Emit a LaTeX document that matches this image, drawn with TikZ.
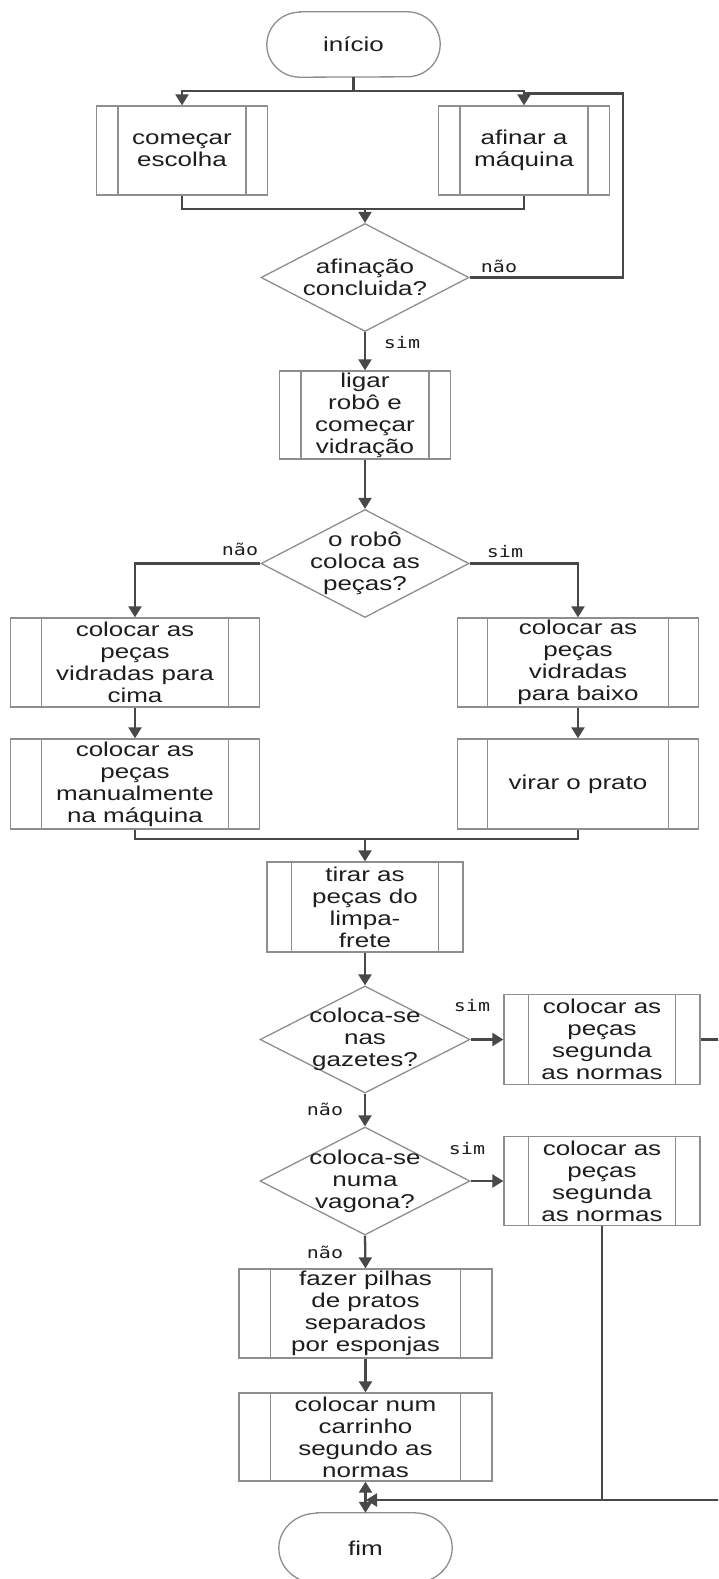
\documentclass[tikz,border=0pt]{standalone}
\usepackage{fontspec}
\setmainfont{Liberation Sans}[FakeStretch=1.3]
\newfontfamily\labelmono{DejaVu Sans Mono}[FakeStretch=1.25]
\usetikzlibrary{shapes.geometric,calc,arrows.meta}
\definecolor{boxgray}{HTML}{8E8E8E}
\definecolor{linegray}{HTML}{484848}
\definecolor{txt}{HTML}{1E1E1E}

% outline of a start/end terminal around a text node: #1 node, #2 end x radius, #3 half height
\newcommand\termpath[3]{%
  \draw[termline] ([xshift=#2pt]#1.north west) -- ([xshift=-#2pt]#1.north east)
    arc[start angle=90, end angle=-90, x radius=#2pt, y radius=#3pt]
    -- ([xshift=#2pt]#1.south west)
    arc[start angle=270, end angle=90, x radius=#2pt, y radius=#3pt] -- cycle;}

\begin{document}
\begin{tikzpicture}[x=1pt,y=-1pt,
  every node/.style={text=txt},
  txtfont/.style={font=\fontsize{20}{22}\selectfont},
  proc/.style n args={2}{draw=boxgray, line width=1.3pt, rectangle,
    minimum width=#1pt, minimum height=#2pt, inner sep=0pt, align=center, txtfont,
    path picture={
      \draw[boxgray, line width=1.3pt]
        ($(path picture bounding box.north west)!0.125!(path picture bounding box.north east)$) --
        ($(path picture bounding box.south west)!0.125!(path picture bounding box.south east)$);
      \draw[boxgray, line width=1.3pt]
        ($(path picture bounding box.north west)!0.875!(path picture bounding box.north east)$) --
        ($(path picture bounding box.south west)!0.875!(path picture bounding box.south east)$);
    }},
  dec/.style={draw=boxgray, line width=1.3pt, diamond, minimum width=208pt,
    minimum height=108pt, inner sep=0pt},
  dectext/.style={align=center, txtfont, inner sep=0pt},
  termtext/.style={txtfont, minimum width=173pt, inner sep=0pt},
  termline/.style={draw=boxgray, line width=1.3pt},
  conn/.style={draw=linegray, line width=2.3pt},
  arr/.style={conn, -{Triangle[length=11pt,width=13pt]}},
  lab/.style={font=\labelmono\fontsize{16}{18}\selectfont, inner sep=0pt},
]
\useasboundingbox (0,0) rectangle (718,1579);
\clip (0,0) rectangle (718,1579);
\fill[white] (0,0) rectangle (718,1579);

% ---- nodes ----
\node[termtext, minimum height=65pt] (start) at (353.5,44.5) {início};
\termpath{start}{33}{32.5}
\node[proc={171}{89}] (beg) at (182,150.5) {começar\\escolha};
\node[proc={171}{89}] (afin) at (524,150.5) {afinar a\\máquina};
\node[dec] (d1) at (365,277.5) {};
\node[dectext] (d1t) at (d1) {afinação\\concluida?};
\node[proc={171}{88}] (ligar) at (365,415) {ligar\\robô e\\começar\\vidração};
\node[dec] (d2) at (365,563.5) {};
\node[dectext] (d2t) at (d2) {o robô\\coloca as\\peças?};
\node[proc={249}{89}] (l1) at (135,662.5) {colocar as\\peças\\vidradas para\\cima};
\node[proc={241}{89}] (r1) at (578,662.5) {colocar as\\peças\\vidradas\\para baixo};
\node[proc={249}{90}] (l2) at (135,784) {colocar as\\peças\\manualmente\\na máquina};
\node[proc={241}{90}] (r2) at (578,784) {virar o prato};
\node[proc={196}{90}] (tirar) at (365,907) {tirar as\\peças do\\limpa-\\frete};
\node[dec, minimum width=210pt, minimum height=107pt] (d3) at (365,1039.5) {};
\node[dectext] (d3t) at (d3) {coloca-se\\nas\\gazetes?};
\node[proc={196}{90}] (pa) at (602,1039.5) {colocar as\\peças\\segunda\\as normas};
\node[dec, minimum width=210pt, minimum height=108pt] (d4) at (365,1181) {};
\node[dectext] (d4t) at (d4) {coloca-se\\numa\\vagona?};
\node[proc={196}{89}] (pb) at (602,1181) {colocar as\\peças\\segunda\\as normas};
\node[proc={253}{89}] (pilhas) at (365.5,1313.5) {fazer pilhas\\de pratos\\separados\\por esponjas};
\node[proc={253}{88}] (carr) at (365.5,1437) {colocar num\\carrinho\\segundo as\\normas};
\node[termtext, minimum height=70pt] (fim) at (365.5,1548) {fim};
\termpath{fim}{38}{35}

% ---- connectors ----
\coordinate (split) at (353.5,91);
\draw[conn] (start.south) -- (split);
\draw[arr] (split) -| (beg.north);
\draw[arr] (split) -| (afin.north);
\coordinate (loopR) at (623,93.5);
\draw[conn] (d1.east) -| (loopR) -- (afin.north |- loopR);
\coordinate (join1) at (365,209);
\draw[conn] (beg.south) |- (afin.south |- join1) -- (afin.south);
\draw[arr] (join1) -- (d1.north);
\draw[arr] (d1.south) -- (ligar.north);
\draw[arr] (ligar.south) -- (d2.north);
\draw[arr] (d2.west) -| (l1.north);
\draw[arr] (d2.east) -| (r1.north);
\draw[arr] (l1.south) -- (l2.north);
\draw[arr] (r1.south) -- (r2.north);
\coordinate (join2) at (365,839);
\draw[conn] (l2.south) |- (r2.south |- join2) -- (r2.south);
\draw[arr] (join2) -- (tirar.north);
\draw[arr] (tirar.south) -- (d3.north);
\draw[arr] (d3.east) -- (pa.west);
\draw[arr] (d3.south) -- (d4.north);
\draw[arr] (d4.east) -- (pb.west);
\draw[arr] (d4.south) -- (pilhas.north);
\draw[arr] (pilhas.south) -- (carr.north);
\coordinate (loopB) at (730,1500);
\coordinate (merge) at (366,1500);
\draw[conn, {Triangle[length=11pt,width=13pt]}-{Triangle[length=11pt,width=13pt]}] (carr.south) -- (fim.north);
\draw[conn] (pb.south) -- (pb.south |- merge);
\draw[arr] (pa.east) -| (loopB) -- (merge);

% ---- branch labels ----
\node[lab] (n1) at (499,266) {não};
\node[lab] (s1) at (402,343) {sim};
\node[lab] (n2) at (240,549) {não};
\node[lab] (s2) at (505,552) {sim};
\node[lab] (s3) at (472,1006) {sim};
\node[lab] (n3) at (325,1109) {não};
\node[lab] (s4) at (467,1149) {sim};
\node[lab] (n4) at (325,1252) {não};
\end{tikzpicture}
\end{document}
